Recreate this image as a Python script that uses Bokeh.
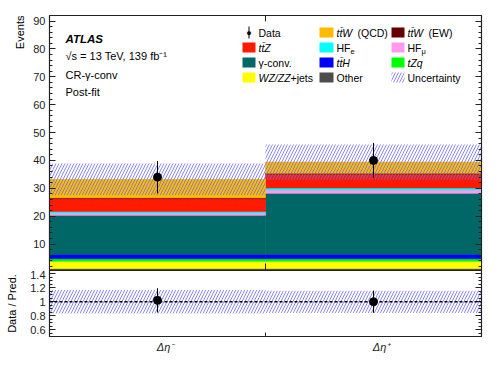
import numpy as np
from bokeh.plotting import figure
from bokeh.layouts import column
from bokeh.models import Range1d, FixedTicker, LinearAxis, Label, BoxAnnotation, Span, Title
from bokeh.embed import file_html
from bokeh.resources import INLINE

# ---------------- data ----------------
bins = ["Δη⁻", "Δη⁺"]
edges = [0.0, 1.0, 2.0]
other = [1.2, 1.2]
wzzz = [2.6, 2.6]
tzq = [0.9, 0.9]
tth = [1.6, 1.6]
gconv = [14.0, 21.9]
hfmu = [0.8, 1.2]
hfe = [0.6, 0.7]
ttz = [4.6, 5.0]
ttw_ew = [0.3, 0.3]
ttw_qcd = [6.6, 4.0]
unc = [5.7, 6.3]
data = [34, 40]
data_err = [5.8, 6.3]
ratio = [1.02, 1.0]
ratio_err = [0.175, 0.16]
ratio_unc = [0.17, 0.16]

y_ticks = [10, 20, 30, 40, 50, 60, 70, 80, 90]
r_ticks = [0.6, 0.8, 1.0, 1.2, 1.4]

stack = [
    (other, "#4d4d4d"),
    (wzzz, "#ffff00"),
    (tzq, "#00ff00"),
    (tth, "#0000ff"),
    (gconv, "#006666"),
    (hfmu, "#ff99ee"),
    (hfe, "#00ffff"),
    (ttz, "#ff1a00"),
    (ttw_ew, "#660000"),
    (ttw_qcd, "#ffbb00"),
]

FONT = "Liberation Sans"
AX = "#222222"
HATCH = "#6a6af5"
HATCH_KW = dict(hatch_pattern="/", hatch_color=HATCH, hatch_alpha=0.8, hatch_scale=6,
                hatch_weight=1)

left = np.array(edges[:-1])
right = np.array(edges[1:])
centers = (left + right) / 2

W = 498
FL, FR, FT, FB = 49, 481, 15, 270   # main frame in page px
QB = 336                             # ratio frame bottom
MAIN_Y = (0.5, 92.0)
RAT_Y = (0.5, 1.45)


def style(p):
    p.xgrid.visible = False
    p.ygrid.visible = False
    p.outline_line_color = AX
    p.outline_line_width = 1.2
    p.background_fill_color = "white"
    p.border_fill_color = "white"


def tick_style(ax, labels=True):
    ax.axis_line_color = AX
    ax.major_tick_line_color = AX
    ax.minor_tick_line_color = AX
    ax.major_tick_in = 6
    ax.major_tick_out = 0
    ax.minor_tick_in = 3
    ax.minor_tick_out = 0
    if labels:
        ax.major_label_text_font = FONT
        ax.major_label_text_font_size = "11px"
        ax.major_label_text_color = AX
        ax.major_label_standoff = 4
    else:
        ax.major_label_text_font_size = "1px"
        ax.major_label_text_color = None
        ax.major_label_standoff = 0


# ---------------- main panel ----------------
p = figure(width=W, height=FB, x_range=Range1d(0, 2), y_range=Range1d(*MAIN_Y),
           output_backend="svg", toolbar_location=None, x_axis_location=None,
           min_border_left=FL, min_border_right=W - FR, min_border_top=FT, min_border_bottom=0)
style(p)

bottom = np.zeros(2)
for vals, col in stack:
    top = bottom + np.array(vals)
    p.quad(left=left, right=right, bottom=bottom, top=top, fill_color=col,
           line_color=col, line_width=0.6)
    bottom = top
total = bottom

p.quad(left=left, right=right, bottom=total - np.array(unc), top=total + np.array(unc),
       fill_alpha=0, line_color=None, **HATCH_KW)

d = np.array(data, dtype=float)
de = np.array(data_err)
p.segment(x0=centers, y0=d - de, x1=centers, y1=d + de, line_color="black", line_width=1)
p.scatter(x=centers, y=d, size=8, color="black")

# bin-boundary tick at the bottom of the main frame (inward, 7 px)
mpp = (MAIN_Y[1] - MAIN_Y[0]) / (FB - FT)
p.segment(x0=[edges[1]], y0=[MAIN_Y[0]], x1=[edges[1]], y1=[MAIN_Y[0] + 7 * mpp],
          line_color=AX, line_width=1)

p.yaxis.ticker = FixedTicker(ticks=y_ticks, minor_ticks=list(range(2, 92, 2)))
tick_style(p.yaxis[0])
ra = LinearAxis(ticker=FixedTicker(ticks=y_ticks, minor_ticks=list(range(2, 92, 2))))
tick_style(ra, labels=False)
p.add_layout(ra, "right")
ta = LinearAxis(ticker=FixedTicker(ticks=[edges[1]], minor_ticks=[]))
tick_style(ta, labels=False)
p.add_layout(ta, "above")

p.add_layout(Title(text="Events", align="right", text_font=FONT, text_font_size="11px",
                   text_font_style="normal", text_color="black", offset=0), "left")


def sx(px):
    return px - FL


def sy(py):
    return FB - py


def lab(fig, x, y, text, size="10.5px", style_="normal", align="left", **kw):
    fig.add_layout(Label(x=x, y=y, x_units="screen", y_units="screen", text=text,
                         text_font=FONT, text_font_size=size, text_font_style=style_,
                         text_color="black", text_align=align, text_baseline="middle", **kw))


# ATLAS texts
lab(p, sx(65), sy(38), "ATLAS", size="11.5px", style_="bold italic")
lab(p, sx(65), sy(55), "√s = 13 TeV, 139 fb⁻¹", size="11px")
lab(p, sx(65), sy(74), "CR-γ-conv", size="11px")
lab(p, sx(65), sy(91), "Post-fit", size="11px")

# legend
rows = [32, 47, 62, 77]
cols_sw = [(242, 255), (319, 333), (391, 404)]
cols_tx = [258, 336, 407]


def box(x0, x1, y0, y1, **kw):
    p.add_layout(BoxAnnotation(left=sx(x0), right=sx(x1), bottom=sy(y1), top=sy(y0),
                               left_units="screen", right_units="screen",
                               bottom_units="screen", top_units="screen", **kw))


def swatch(r, c, color=None, hatch=False):
    y = rows[r]
    x0, x1 = cols_sw[c]
    if hatch:
        box(x0, x1, y - 5, y + 5, fill_alpha=0, line_color=None, **HATCH_KW)
    else:
        box(x0, x1, y - 5, y + 5, fill_color=color, fill_alpha=1, line_color=None)


def ltext(r, c, text, dx=0, style_="normal", size="10.5px"):
    lab(p, sx(cols_tx[c] + dx), sy(rows[r]), text, size=size, style_=style_)


# Data marker
box(248, 249, 26, 38, fill_color="black", fill_alpha=1, line_color=None)
lab(p, sx(248.5), sy(32), "●", size="9px", align="center")
ltext(0, 0, "Data")
swatch(0, 1, "#ffbb00"); ltext(0, 1, "tt̄W", style_="italic"); ltext(0, 1, "(QCD)", dx=21)
swatch(0, 2, "#660000"); ltext(0, 2, "tt̄W", style_="italic"); ltext(0, 2, "(EW)", dx=21)
swatch(1, 0, "#ff1a00"); ltext(1, 0, "tt̄Z", style_="italic")
swatch(1, 1, "#00ffff"); ltext(1, 1, "HF"); lab(p, sx(cols_tx[1] + 14), sy(rows[1] + 4), "e", size="7.5px")
swatch(1, 2, "#ff99ee"); ltext(1, 2, "HF"); lab(p, sx(cols_tx[2] + 14), sy(rows[1] + 4), "μ", size="7.5px")
swatch(2, 0, "#006666"); ltext(2, 0, "γ-conv.")
swatch(2, 1, "#0000ff"); ltext(2, 1, "tt̄H", style_="italic")
swatch(2, 2, "#00ff00"); ltext(2, 2, "tZq", style_="italic")
swatch(3, 0, "#ffff00"); ltext(3, 0, "WZ/ZZ", style_="italic"); ltext(3, 0, "+jets", dx=32)
swatch(3, 1, "#4d4d4d"); ltext(3, 1, "Other")
swatch(3, 2, hatch=True); ltext(3, 2, "Uncertainty")

# ---------------- ratio panel ----------------
QH = 104
q = figure(width=W, height=QH, x_range=p.x_range, y_range=Range1d(*RAT_Y),
           output_backend="svg", toolbar_location=None,
           min_border_left=FL, min_border_right=W - FR, min_border_top=0,
           min_border_bottom=QH - (QB - FB))
style(q)

q.quad(left=left, right=right, bottom=1 - np.array(ratio_unc), top=1 + np.array(ratio_unc),
       fill_alpha=0, line_color=None, **HATCH_KW)
q.add_layout(Span(location=1.0, dimension="width", line_color="black", line_dash="3 2",
                  line_width=1.3))
r = np.array(ratio)
re_ = np.array(ratio_err)
q.segment(x0=centers, y0=r - re_, x1=centers, y1=r + re_, line_color="black", line_width=1)
q.scatter(x=centers, y=r, size=8, color="black")

rpp = (RAT_Y[1] - RAT_Y[0]) / (QB - FB)
q.segment(x0=[edges[1]], y0=[RAT_Y[0]], x1=[edges[1]], y1=[RAT_Y[0] + 4 * rpp],
          line_color=AX, line_width=1)

rminor = [round(0.5 + 0.05 * i, 2) for i in range(0, 20)]
q.yaxis.ticker = FixedTicker(ticks=r_ticks, minor_ticks=rminor)
q.yaxis.major_label_overrides = {0.6: "0.6", 0.8: "0.8", 1.0: "1", 1.2: "1.2", 1.4: "1.4"}
tick_style(q.yaxis[0])
q.yaxis.axis_label = "Data / Pred."
q.yaxis.axis_label_text_font = FONT
q.yaxis.axis_label_text_font_size = "11px"
q.yaxis.axis_label_text_font_style = "normal"
q.yaxis.axis_label_text_color = "black"
q.yaxis.axis_label_standoff = 9

# category labels on the bottom axis (text starts at bin centre)
xpp = (edges[-1] - edges[0]) / (FR - FL)
lab_ticks = [c + 8 * xpp for c in centers]
q.xaxis.ticker = FixedTicker(ticks=lab_ticks, minor_ticks=[])
q.xaxis.major_label_overrides = {t: n for t, n in zip(lab_ticks, bins)}
tick_style(q.xaxis[0])
q.xaxis.major_tick_in = 0
q.xaxis.major_label_text_font_style = "italic"
q.xaxis.major_label_standoff = 4

ra2 = LinearAxis(ticker=FixedTicker(ticks=r_ticks, minor_ticks=rminor))
tick_style(ra2, labels=False)
q.add_layout(ra2, "right")

layout = column(p, q, spacing=0)
open("out.html", "w").write(file_html(layout, INLINE))
